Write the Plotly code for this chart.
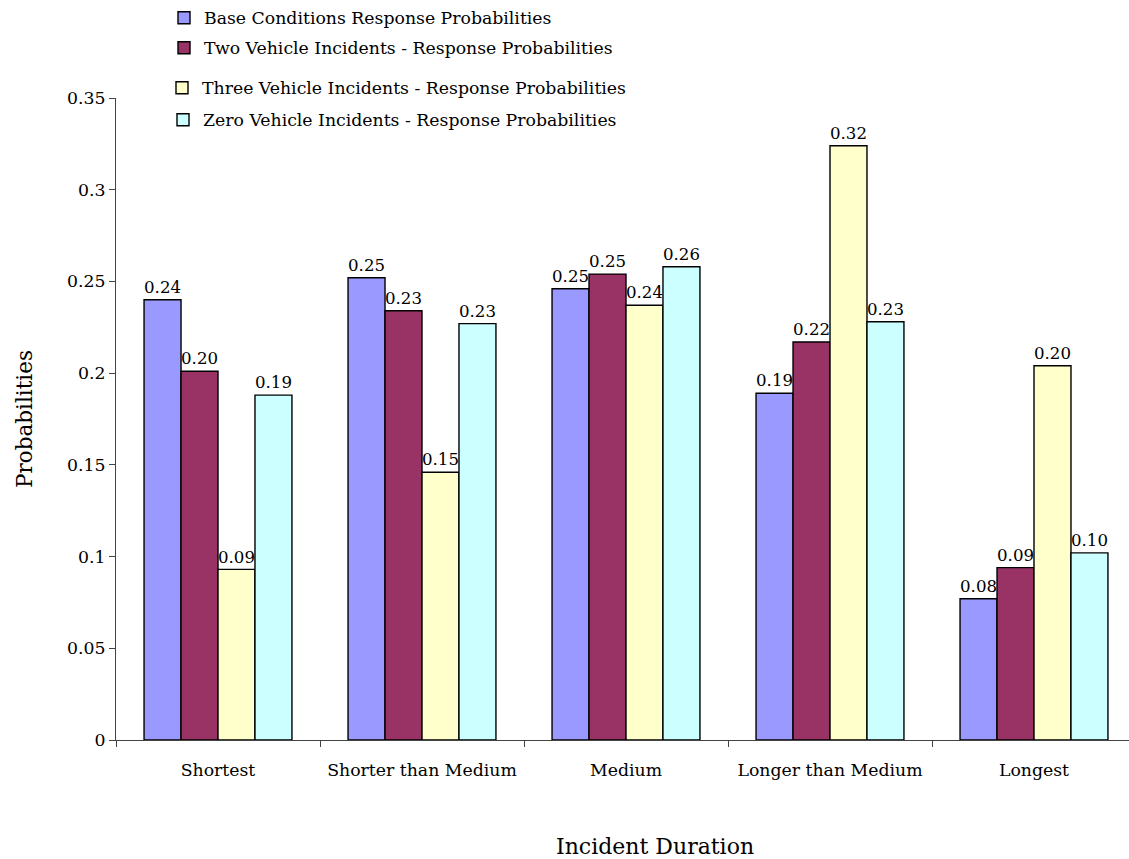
import plotly.graph_objects as go

categories = ["Shortest", "Shorter than Medium", "Medium", "Longer than Medium", "Longest"]
series_names = [
    "Base Conditions Response Probabilities",
    "Two Vehicle Incidents - Response Probabilities",
    "Three Vehicle Incidents - Response Probabilities",
    "Zero Vehicle Incidents - Response Probabilities",
]
base_vals = [0.240, 0.252, 0.246, 0.189, 0.077]
two_vals = [0.201, 0.234, 0.254, 0.217, 0.094]
three_vals = [0.093, 0.146, 0.237, 0.324, 0.204]
zero_vals = [0.188, 0.227, 0.258, 0.228, 0.102]
colors = ["#9999FF", "#993366", "#FFFFCC", "#CCFFFF"]
y_ticks = [0, 0.05, 0.1, 0.15, 0.2, 0.25, 0.3, 0.35]
y_ticktext = ["0", "0.05", "0.1", "0.15", "0.2", "0.25", "0.3", "0.35"]

FONT = "DejaVu Serif"
SMALL = 17.3
W, H = 1129, 859
ML, MT, MB, MR = 116, 97, 119, 0
plot_w = W - ML - MR
plot_h = H - MT - MB
cat_px = 204.0

fig = go.Figure()
all_vals = [base_vals, two_vals, three_vals, zero_vals]
legend_ids = ["legend", "legend2", "legend3", "legend4"]
for name, vals, col, lid in zip(series_names, all_vals, colors, legend_ids):
    fig.add_trace(go.Bar(
        x=categories, y=vals, name=name,
        marker=dict(color=col, line=dict(color="black", width=1.4)),
        texttemplate="%{y:.2f}", textposition="outside",
        textfont=dict(family=FONT, size=SMALL, color="black"),
        cliponaxis=False, legend=lid,
    ))

# legend rows at pixel y positions (from top)
legend_px_y = [17, 48, 88, 120]
legend_px_x = [186, 186, 184, 185]
layout_legends = {}
for lid, py, px in zip(legend_ids, legend_px_y, legend_px_x):
    layout_legends[lid] = dict(
        x=(px - 22 - ML) / plot_w, y=(H - MB - py) / plot_h,
        xanchor="left", yanchor="middle",
        bgcolor="rgba(0,0,0,0)",
        font=dict(family=FONT, size=SMALL, color="black"),
    )

x_range = [-0.5, -0.5 + plot_w / cat_px]

fig.update_layout(
    width=W, height=H,
    margin=dict(l=ML, r=MR, t=MT, b=MB),
    paper_bgcolor="white", plot_bgcolor="white",
    barmode="group", bargap=0.275, bargroupgap=0,
    font=dict(family=FONT, size=SMALL, color="black"),
    showlegend=True,
    **layout_legends,
    xaxis=dict(
        range=x_range, showline=True, linecolor="#444", linewidth=1,
        ticks="outside", tickson="boundaries", ticklen=6, tickcolor="#444",
        ticklabelstandoff=14,
        tickfont=dict(family=FONT, size=SMALL), showgrid=False,
    ),
    yaxis=dict(
        range=[0, 0.35], tickvals=y_ticks, ticktext=y_ticktext,
        showline=True, linecolor="#444", linewidth=1,
        ticks="outside", ticklen=6, tickcolor="#444",
        tickfont=dict(family=FONT, size=SMALL), showgrid=False, zeroline=False,
        title=dict(text="Probabilities", font=dict(family=FONT, size=21.5), standoff=28),
    ),
    annotations=[dict(
        text="Incident Duration", x=(655 - ML) / plot_w, y=-(847 - (H - MB)) / plot_h,
        xref="paper", yref="paper", showarrow=False, xanchor="center", yanchor="middle",
        font=dict(family=FONT, size=22, color="black"),
    )],
)

fig.write_html("out.html")
